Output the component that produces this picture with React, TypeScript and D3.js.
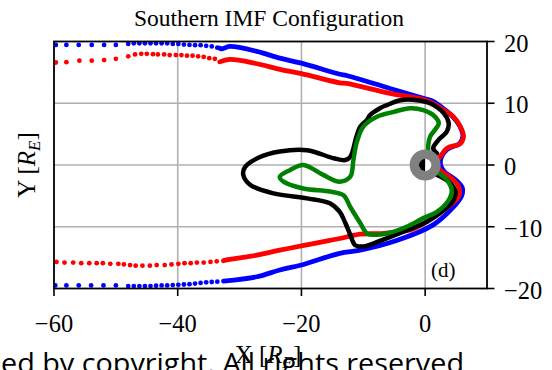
import React from "react";
import * as d3 from "d3";

type P = [number, number];

// Sparse sampled tail points (drawn as dots)
const blueUpperDots: P[] = [
  [-59.7, 19.45], [-58, 19.45], [-56, 19.45], [-53.9, 19.45], [-51.9, 19.45], [-50, 19.45],
  [-48, 19.6], [-47.1, 19.7], [-46.2, 19.7], [-45.3, 19.7], [-44.4, 19.7], [-43.5, 19.7],
  [-42.6, 19.7], [-41.7, 19.7], [-40.8, 19.6], [-39.9, 19.6], [-39, 19.5], [-38.1, 19.45],
  [-37.2, 19.4], [-36.3, 19.4], [-35.4, 19.3], [-34.5, 19.2], [-33.6, 19.0],
];
const redUpperDots: P[] = [
  [-59.7, 16.6], [-58, 16.65], [-55.9, 16.9], [-53.9, 16.9], [-51.9, 17.0], [-50, 17.2],
  [-48, 17.6], [-46.9, 17.9], [-45.9, 18.0], [-45, 18.0], [-44, 17.95], [-43.2, 17.9],
  [-42.2, 17.9], [-41.3, 17.8], [-40.3, 17.8], [-39.4, 17.8], [-38.5, 17.7], [-37.6, 17.7],
  [-36.7, 17.6], [-35.8, 17.5], [-34.9, 17.3], [-34, 17.2],
];
const redLowerDots: P[] = [
  [-59.6, -15.7], [-58.3, -15.8], [-56.9, -15.8], [-55.6, -15.9], [-54.3, -15.9], [-53.1, -15.9],
  [-52.1, -15.9], [-50.9, -16.0], [-49.6, -16.0], [-48.7, -16.1], [-47.7, -16.2], [-46.8, -16.3],
  [-45.7, -16.3], [-44.5, -16.3], [-43.4, -16.2], [-42.1, -16.2], [-41.0, -16.1], [-39.9, -16.0],
  [-38.9, -15.9], [-37.9, -15.9], [-36.9, -15.8], [-35.8, -15.8], [-34.7, -15.7], [-33.7, -15.6],
];
const blueLowerDots: P[] = [
  [-59.8, -19.5], [-58, -19.5], [-56, -19.5], [-54, -19.5], [-52, -19.5], [-50, -19.5],
  [-48, -19.6], [-47.1, -19.6], [-46.2, -19.6], [-45.3, -19.6], [-44.4, -19.6], [-43.5, -19.55],
  [-42.6, -19.5], [-41.7, -19.5], [-40.8, -19.45], [-39.9, -19.4], [-39, -19.35], [-38.1, -19.3],
  [-37.2, -19.2], [-36.3, -19.1], [-35.4, -19.0], [-34.5, -18.95], [-33.6, -18.9],
];

// Dense parts (drawn as thick lines)
const blueLine: P[] = [
  [-33.2, 18.9], [-32.8, 18.8], [-31.6, 19.2], [-27.2, 18.4], [-23.5, 17.3], [-20, 16.5],
  [-13.8, 14.7], [-12.7, 14.5], [-5.7, 12.4], [-0.3, 10.8], [1.3, 10.3], [3, 9.1],
  [4.5, 7.8], [5.6, 6.3], [6.1, 4.7], [5.6, 3.5], [3.5, 2.5], [2.6, 1.2], [2.5, 0],
  [3.1, -1.1], [4.9, -2.4], [6, -3.7], [5.9, -5], [4.4, -7], [1.3, -9.7], [-4.5, -12.2],
  [-10.5, -13.8], [-13.8, -14.3], [-20, -16.2], [-23.5, -17], [-27.2, -18.1], [-32.6, -18.8],
];
const redLine: P[] = [
  [-33.2, 16.7], [-31.6, 17.1], [-27.2, 16.4], [-23.5, 15.5], [-20, 14.8], [-13.8, 13.3],
  [-12.7, 13.2], [-5.7, 11.6], [0.3, 10.4], [3, 8.9], [4.6, 7.8], [5.7, 6.2], [6.2, 4.6],
  [5.7, 3.5], [3.5, 2.7], [2.4, 1.3], [1.9, 0.5], [2.2, -0.5], [2.7, -1.1], [4.3, -2.2],
  [5.4, -3.5], [5.4, -5.1], [4, -6.5], [2.4, -7.8], [-0.3, -9.5], [-2.4, -10.5],
  [-7.3, -11.1], [-10.5, -11.2], [-13.8, -11.9], [-15.4, -12.2], [-20, -13.1],
  [-23.5, -13.8], [-27.2, -14.6], [-31.6, -15.3], [-32.6, -15.5],
];
const blackLine: P[] = [
  [1.9, 1.9], [1.3, 2.7], [2.2, 4.1], [3.5, 5.4], [3.8, 6.8], [3.0, 8.4], [0.8, 10.0],
  [-1.3, 10.5], [-4.0, 10.5], [-6.2, 9.7], [-7.3, 9.2], [-8.9, 8.1], [-9.4, 7.3],
  [-10.5, 6.2], [-11.1, 4.6], [-12.1, 1.3], [-12.9, 0.8], [-14.8, 1.1], [-19.1, 2.4],
  [-23.5, 2.2], [-26.7, 1.3], [-29.1, -0.3], [-29.4, -1.6], [-28.3, -3.2], [-24.5, -4.6],
  [-19.1, -5.4], [-15.4, -6.2], [-13.8, -7.6], [-12.9, -9.4], [-12.1, -11.3], [-11.3, -13.0],
  [-10.0, -13.2], [-7.3, -12.3], [-3.5, -10.8], [0.3, -9.2], [3.0, -7.3], [4.6, -5.7],
  [4.9, -4.3], [3.8, -2.7], [1.9, -1.6],
];
const greenLine: P[] = [
  [0.5, 2.2], [0.5, 3.2], [0.8, 4.6], [1.6, 5.7], [2.2, 6.8], [1.3, 8.1], [-0.3, 8.9],
  [-2.4, 9.2], [-5.1, 8.6], [-7.8, 7.8], [-10.0, 6.2], [-11.1, 3.5], [-11.6, 0.8],
  [-12.1, -1.9], [-13.8, -2.7], [-16.5, -1.6], [-19.7, 0.0], [-21.8, -0.8], [-23.5, -1.9],
  [-22.9, -2.7], [-19.7, -3.8], [-15.4, -4.3], [-13.2, -4.9], [-12.1, -6.8], [-10.5, -9.4],
  [-9.4, -11.1], [-8.4, -11.3], [-6.2, -11.1], [-3.0, -10.0], [-0.3, -8.6], [1.9, -7.6],
  [3.8, -5.7], [4.3, -4.1], [3.5, -2.4], [2.2, -1.3],
];

const xTicks = [-60, -40, -20, 0];
const yTicks = [20, 10, 0, -10, -20];
const xGrid = [-40, -20, 0];
const yGrid = [10, 0, -10];

const fmt = (v: number) => (v < 0 ? "\u2212" + Math.abs(v) : String(v));

export default function App() {
  const x = d3.scaleLinear().domain([-60, 10]).range([54, 487]);
  const y = d3.scaleLinear().domain([-20, 20]).range([288.5, 41.5]);
  const line = d3
    .line<P>()
    .x((d) => x(d[0]))
    .y((d) => y(d[1]))
    .curve(d3.curveCatmullRom.alpha(0.5));
  const serif = "'Liberation Serif', 'Times New Roman', serif";
  const rOuter = x(2.5) - x(0);
  const rInner = x(1) - x(0);
  const cx = x(0);
  const cy = y(0);

  const dots = (pts: P[], color: string) =>
    pts.map((p, i) => <circle key={color + i} cx={x(p[0])} cy={y(p[1])} r={2.4} fill={color} />);

  return (
    <svg width={552} height={370} style={{ position: "absolute", left: 0, top: 0, background: "#fff" }}>
      <defs>
        <clipPath id="plotclip">
          <rect x={54} y={41.5} width={433} height={247} />
        </clipPath>
      </defs>
      <rect x={0} y={0} width={552} height={370} fill="#fff" />
      <text x={269} y={26} textAnchor="middle" fontFamily={serif} fontSize={23.5} fill="#000">
        Southern IMF Configuration
      </text>
      {/* grid */}
      {xGrid.map((v) => (
        <line key={"gx" + v} x1={x(v)} x2={x(v)} y1={41.5} y2={288.5} stroke="#b0b0b0" strokeWidth={1.6} />
      ))}
      {yGrid.map((v) => (
        <line key={"gy" + v} x1={54} x2={487} y1={y(v)} y2={y(v)} stroke="#b0b0b0" strokeWidth={1.6} />
      ))}
      <g clipPath="url(#plotclip)">
        {dots(blueUpperDots, "#0000ff")}
        {dots(blueLowerDots, "#0000ff")}
        <path d={line(blueLine) || ""} fill="none" stroke="#0000ff" strokeWidth={4.8} strokeLinejoin="round" strokeLinecap="round" />
        {dots(redUpperDots, "#ff0000")}
        {dots(redLowerDots, "#ff0000")}
        <path d={line(redLine) || ""} fill="none" stroke="#ff0000" strokeWidth={4.8} strokeLinejoin="round" strokeLinecap="round" />
        <path d={line(blackLine) || ""} fill="none" stroke="#000" strokeWidth={4.5} strokeLinejoin="round" strokeLinecap="round" />
        <path d={line(greenLine) || ""} fill="none" stroke="#008000" strokeWidth={4.5} strokeLinejoin="round" strokeLinecap="round" />
        <circle cx={cx} cy={cy} r={rOuter} fill="#808080" />
        <circle cx={cx} cy={cy} r={rInner} fill="#fff" />
        <path
          d={`M ${cx} ${cy - rInner} A ${rInner} ${rInner} 0 0 0 ${cx} ${cy + rInner} Z`}
          fill="#000"
        />
      </g>
      {/* frame */}
      <rect x={54} y={41.5} width={433} height={247} fill="none" stroke="#000" strokeWidth={1.8} />
      {/* bottom ticks */}
      {xTicks.map((v) => (
        <g key={"xt" + v}>
          <line x1={x(v)} x2={x(v)} y1={288.5} y2={296} stroke="#000" strokeWidth={1.6} />
          <text x={x(v)} y={332} textAnchor="middle" fontFamily={serif} fontSize={24.5} fill="#000">
            {fmt(v)}
          </text>
        </g>
      ))}
      {/* right ticks */}
      {yTicks.map((v) => (
        <g key={"yt" + v}>
          <line x1={487} x2={494.5} y1={y(v)} y2={y(v)} stroke="#000" strokeWidth={1.6} />
          <text x={504} y={y(v) + 10} textAnchor="start" fontFamily={serif} fontSize={24.5} fill="#000">
            {fmt(v)}
          </text>
        </g>
      ))}
      <text x={431} y={277} fontFamily={serif} fontSize={21} fill="#000">
        (d)
      </text>
      {/* y label */}
      <text transform="translate(35,165) rotate(-90)" textAnchor="middle" fontFamily={serif} fontSize={25} fill="#000">
        Y [<tspan fontStyle="italic">R</tspan>
        <tspan fontStyle="italic" fontSize={17} dy={5}>E</tspan>
        <tspan dy={-5}>]</tspan>
      </text>
      {/* x label */}
      <text x={268} y={363} textAnchor="middle" fontFamily={serif} fontSize={25} fill="#000">
        X [<tspan fontStyle="italic">R</tspan>
        <tspan fontStyle="italic" fontSize={17} dy={5}>E</tspan>
        <tspan dy={-5}>]</tspan>
      </text>
      <text x={1} y={373} fontFamily="'Open Sans', 'Noto Sans', sans-serif" fontSize={27} fill="#000" textLength={463} lengthAdjust="spacingAndGlyphs">
        ed by copyright. All rights reserved
      </text>
    </svg>
  );
}
